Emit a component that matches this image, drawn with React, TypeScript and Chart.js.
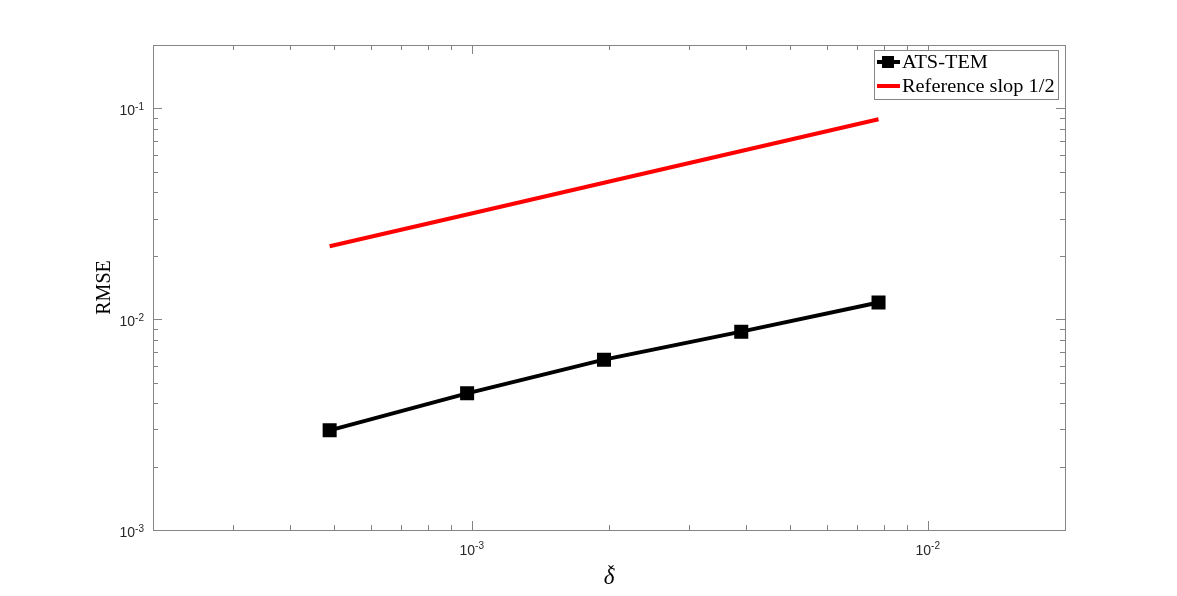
import React, { useEffect, useRef } from 'react';
import { Chart, registerables } from 'chart.js';

Chart.register(...registerables);

// ---- data ----
const deltaValues = [0.000488, 0.000977, 0.00195, 0.0039, 0.0078];
const rmseValues = [0.00297, 0.00445, 0.00643, 0.00873, 0.0120];
const refValues = [0.0222, 0.0314, 0.0444, 0.0628, 0.0888];
const seriesLabels = ['ATS-TEM', 'Reference slop 1/2'];
const seriesColors = ['#000000', '#ff0000'];

// ---- axes ----
const xRange = [2e-4, 2e-2];
const yRange = [1e-3, 2e-1];
const xMajorTicks = [1e-3, 1e-2];
const xMajorExponents = ['-3', '-2'];
const xMinorTicks = [3e-4, 4e-4, 5e-4, 6e-4, 7e-4, 8e-4, 9e-4, 2e-3, 3e-3, 4e-3, 5e-3, 6e-3, 7e-3, 8e-3, 9e-3];
const yMajorTicks = [1e-3, 1e-2, 1e-1];
const yMajorExponents = ['-3', '-2', '-1'];
const yMinorTicks = [2e-3, 3e-3, 4e-3, 5e-3, 6e-3, 7e-3, 8e-3, 9e-3, 2e-2, 3e-2, 4e-2, 5e-2, 6e-2, 7e-2, 8e-2, 9e-2];
const xTitle = '\u03B4';
const xTitleAccent = '\u02C7';
const yTitle = 'RMSE';

const AXIS_COLOR = '#858585';
const LABEL_COLOR = '#262626';
const SERIF = '"Liberation Serif", "DejaVu Serif", serif';
const SANS = '"Liberation Sans", Arial, sans-serif';

const axesPlugin = {
  id: 'matlabAxes',
  beforeDatasetsDraw(chart: any) {
    const { ctx, chartArea: a, scales } = chart;
    const xs = scales.x;
    const ys = scales.y;
    ctx.save();
    ctx.strokeStyle = AXIS_COLOR;
    ctx.lineWidth = 1;
    // box
    ctx.strokeRect(Math.round(a.left) + 0.5, Math.round(a.top) + 0.5, Math.round(a.right - a.left), Math.round(a.bottom - a.top));
    const majorLen = 9;
    const minorLen = 5;
    const drawX = (v: number, len: number) => {
      const px = Math.round(xs.getPixelForValue(v)) + 0.5;
      ctx.beginPath();
      ctx.moveTo(px, a.bottom);
      ctx.lineTo(px, a.bottom - len);
      ctx.moveTo(px, a.top);
      ctx.lineTo(px, a.top + len);
      ctx.stroke();
    };
    const drawY = (v: number, len: number) => {
      const py = Math.round(ys.getPixelForValue(v)) + 0.5;
      ctx.beginPath();
      ctx.moveTo(a.left, py);
      ctx.lineTo(a.left + len, py);
      ctx.moveTo(a.right, py);
      ctx.lineTo(a.right - len, py);
      ctx.stroke();
    };
    xMinorTicks.forEach((v) => drawX(v, minorLen));
    xMajorTicks.forEach((v) => drawX(v, majorLen));
    yMinorTicks.forEach((v) => drawY(v, minorLen));
    yMajorTicks.forEach((v) => drawY(v, majorLen));

    // tick labels
    ctx.fillStyle = LABEL_COLOR;
    ctx.textBaseline = 'alphabetic';
    const baseFont = `14px ${SANS}`;
    const supFont = `10px ${SANS}`;
    xMajorTicks.forEach((v, i) => {
      const px = xs.getPixelForValue(v);
      ctx.font = baseFont;
      const w1 = ctx.measureText('10').width;
      ctx.font = supFont;
      const w2 = ctx.measureText(xMajorExponents[i]).width;
      const x0 = px - (w1 + w2) / 2;
      ctx.font = baseFont;
      ctx.textAlign = 'left';
      ctx.fillText('10', x0, a.bottom + 25);
      ctx.font = supFont;
      ctx.fillText(xMajorExponents[i], x0 + w1, a.bottom + 18.5);
    });
    yMajorTicks.forEach((v, i) => {
      const py = ys.getPixelForValue(v);
      ctx.font = supFont;
      const w2 = ctx.measureText(yMajorExponents[i]).width;
      const right = a.left - 9;
      ctx.textAlign = 'right';
      ctx.fillText(yMajorExponents[i], right, py + 1.5);
      ctx.font = baseFont;
      ctx.fillText('10', right - w2, py + 7);
    });

    // axis titles
    ctx.fillStyle = '#000';
    const cx = (a.left + a.right) / 2;
    ctx.font = `italic 23px ${SERIF}`;
    ctx.textAlign = 'center';
    ctx.fillText(xTitle, cx, a.bottom + 54);
    ctx.font = `18px ${SERIF}`;
    ctx.fillText(xTitleAccent, cx + 2, a.bottom + 48);
    ctx.save();
    ctx.translate(a.left - 43, (a.top + a.bottom) / 2);
    ctx.rotate(-Math.PI / 2);
    ctx.font = `20px ${SERIF}`;
    ctx.textAlign = 'center';
    ctx.fillText(yTitle, 0, 0);
    ctx.restore();
    ctx.restore();
  },
  afterDraw(chart: any) {
    const { ctx, chartArea: a } = chart;
    ctx.save();
    const boxLeft = 874.5;
    const boxTop = 50.5;
    const boxRight = a.right - 6.5;
    const boxBottom = 99.5;
    ctx.fillStyle = '#fff';
    ctx.fillRect(boxLeft, boxTop, boxRight - boxLeft, boxBottom - boxTop);
    ctx.strokeStyle = AXIS_COLOR;
    ctx.lineWidth = 1;
    ctx.strokeRect(boxLeft, boxTop, boxRight - boxLeft, boxBottom - boxTop);
    const rows = [62, 86];
    chart.data.datasets.forEach((ds: any, i: number) => {
      const y = rows[i];
      ctx.strokeStyle = ds.borderColor;
      ctx.lineWidth = 4;
      ctx.beginPath();
      ctx.moveTo(877, y);
      ctx.lineTo(900, y);
      ctx.stroke();
      if (i === 0) {
        ctx.fillStyle = '#000';
        ctx.fillRect(882, y - 6, 12, 12);
      }
      ctx.fillStyle = '#000';
      ctx.font = `18.5px ${SERIF}`;
      ctx.textAlign = 'left';
      ctx.textBaseline = 'alphabetic';
      ctx.save();
      ctx.translate(902, y + 6);
      ctx.scale(1.1, 1);
      ctx.fillText(ds.label, 0, 0);
      ctx.restore();
    });
    ctx.restore();
  },
};

export default function App() {
  const canvasRef = useRef<HTMLCanvasElement | null>(null);

  useEffect(() => {
    document.body.style.margin = '0';
    const canvas = canvasRef.current;
    if (!canvas) return;
    const chart = new Chart(canvas, {
      type: 'line',
      data: {
        datasets: [
          {
            label: seriesLabels[0],
            data: deltaValues.map((x, i) => ({ x, y: rmseValues[i] })),
            borderColor: seriesColors[0],
            backgroundColor: seriesColors[0],
            borderWidth: 4,
            pointStyle: 'rect',
            pointRadius: 8.5,
            pointBorderWidth: 2,
            pointBackgroundColor: '#000',
            pointBorderColor: '#000',
            tension: 0,
          },
          {
            label: seriesLabels[1],
            data: deltaValues.map((x, i) => ({ x, y: refValues[i] })),
            borderColor: seriesColors[1],
            backgroundColor: seriesColors[1],
            borderWidth: 4,
            pointRadius: 0,
            tension: 0,
          },
        ],
      },
      options: {
        responsive: false,
        animation: false,
        events: [],
        layout: { padding: { left: 153, right: 112, top: 45, bottom: 66 } },
        plugins: { legend: { display: false }, tooltip: { enabled: false } },
        scales: {
          x: { type: 'logarithmic', min: xRange[0], max: xRange[1], display: false },
          y: { type: 'logarithmic', min: yRange[0], max: yRange[1], display: false },
        },
      },
      plugins: [axesPlugin],
    });
    return () => chart.destroy();
  }, []);

  return (
    <div style={{ width: 1177, height: 596, background: '#fff' }}>
      <canvas ref={canvasRef} width={1177} height={596} />
    </div>
  );
}
